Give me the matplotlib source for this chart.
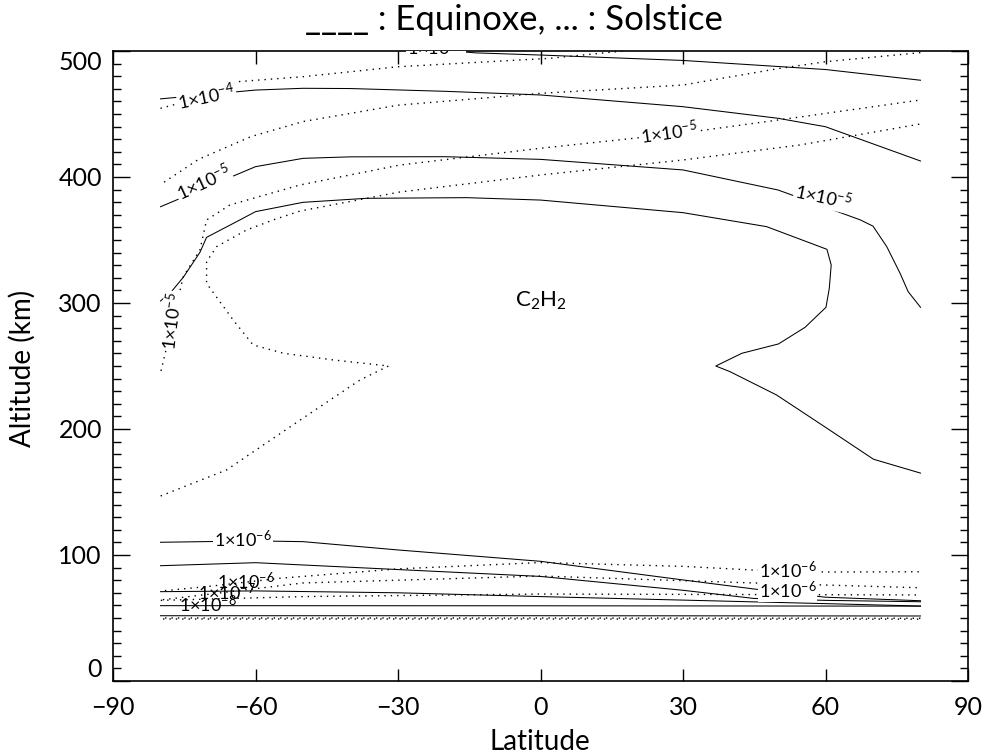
import matplotlib
matplotlib.use('Agg')
import matplotlib.pyplot as plt
from matplotlib.ticker import MultipleLocator

plt.rcParams['font.family'] = ['Lato', 'DejaVu Sans']
plt.rcParams['mathtext.fontset'] = 'custom'
plt.rcParams['mathtext.rm'] = 'Lato'
plt.rcParams['mathtext.it'] = 'Lato'
plt.rcParams['mathtext.sf'] = 'Lato'

# ---- Equinoxe contours (solid) : latitude (deg), altitude (km)
eq1_lat = [-80, -60, -40, -22, -13.6, 0, 30, 60, 80]
eq1_alt = [512, 508, 504.5, 501, 498.5, 496.8, 492.5, 485.3, 476.8]

eq2_lat = [-80, -60, -50, -40, -20, 0, 30, 50, 60, 80]
eq2_alt = [462, 469, 470.4, 470.2, 468, 465.1, 455.8, 446.6, 439.9, 412.7]

eq3_lat = [-80, -60, -50, -40, -20, 0, 30, 50, 60, 67.3, 70, 72.9, 75.7, 77.4, 80]
eq3_alt = [376.4, 408.2, 414.8, 416, 416.1, 414, 405.6, 389.7, 376, 366, 361, 344.7, 323.6, 309, 296.6]

eq4_lat = [-80, -77.6, -75.2, -71.7, -70.3, -63.3, -60, -50, -36.6, -15.5, 0, 30, 47.6,
           60.3, 61.2, 60.8, 60.1, 55.7, 50.1, 42.4, 36.9, 39.9, 49.7, 60.3, 70.1, 80]
eq4_alt = [301.6, 309.5, 320.4, 340.2, 352.1, 365.9, 372.5, 379.9, 383.1, 383.6, 381.7, 371.7, 360.6,
           342.6, 330.2, 311.7, 296.6, 280.7, 267.5, 260.1, 250, 245.5, 227, 200.6, 176, 165]

eq5_lat = [-80, -60, -50, -30, 0, 30, 45, 60, 80]
eq5_alt = [110.1, 111.2, 110.6, 104, 95, 80.2, 73, 66.5, 63.7]

eq6_lat = [-80, -60, 0, 30, 45, 60, 80]
eq6_alt = [91.5, 93.9, 83, 72, 65.5, 64, 62.9]

eq7_lat = [-80, -60, -30, 0, 30, 60, 80]
eq7_alt = [70.9, 71.5, 70, 67, 64.2, 61.4, 59.5]

eq8_lat = [-80, 0, 80]
eq8_alt = [59.8, 59.7, 59.4]

eq9_lat = [-80, 0, 80]
eq9_alt = [51.8, 51.8, 51.6]

# ---- Solstice contours (dotted)
so1_lat = [-80, -76, -64, -50, -30, 2, 19.5, 40, 60, 80]
so1_alt = [454.5, 458.5, 475.6, 479.6, 487.5, 494.2, 500.8, 506, 511, 516]

so2_lat = [-80, -72, -61, -50, -30, 0, 30, 50, 60, 80]
so2_alt = [394, 414, 432, 444, 457, 466.4, 473, 486, 491.5, 498.7]

so3_lat = [-80, -77.6, -75.2, -71.7, -70.3, -65.4, -50.6, -29.6, 0, 30, 54.6, 80]
so3_alt = [244.4, 282.5, 320.9, 342.1, 365.9, 377.8, 393.7, 409.5, 422.8, 434.9, 447.6, 461.1]

so4_lat = [-80, -66.1, -50.6, -38, -32, -43.6, -54.1, -60.5, -64.7, -70.3, -70.3, -68.2,
           -61.9, -56.3, -50.6, -29.6, 0, 30, 54.6, 80]
so4_alt = [146.8, 167.5, 207.1, 238.9, 250, 254.8, 260.1, 266.7, 286.5, 315.6, 332.8, 344.7,
           357.9, 365.9, 373, 388.1, 401.6, 413.5, 425.4, 442.1]

so5_lat = [-80, -70, -55, -30, 0, 30, 45, 60, 80]
so5_alt = [71.4, 75, 81.5, 89, 94, 91, 88, 86.5, 86.7]

so6_lat = [-80, -50, 0, 45, 80]
so6_alt = [64.3, 77.8, 83.3, 77.8, 74]

so7_lat = [-80, -50, 0, 80]
so7_alt = [64, 67, 69, 68.3]

so8_lat = [-80, 0, 80]
so8_alt = [50, 50, 49.8]

so9_lat = [-80, 0, 80]
so9_alt = [49.2, 49.2, 49.1]

solid_lines = [(eq1_lat, eq1_alt), (eq2_lat, eq2_alt), (eq3_lat, eq3_alt), (eq4_lat, eq4_alt),
               (eq5_lat, eq5_alt), (eq6_lat, eq6_alt), (eq7_lat, eq7_alt), (eq8_lat, eq8_alt),
               (eq9_lat, eq9_alt)]
dotted_lines = [(so1_lat, so1_alt), (so2_lat, so2_alt), (so3_lat, so3_alt), (so4_lat, so4_alt),
                (so5_lat, so5_alt), (so6_lat, so6_alt), (so7_lat, so7_alt), (so8_lat, so8_alt),
                (so9_lat, so9_alt)]

xticks = [-90, -60, -30, 0, 30, 60, 90]
yticks = [0, 100, 200, 300, 400, 500]

fig = plt.figure(figsize=(9.86, 7.55), dpi=100)
ax = fig.add_axes([113 / 986, 1 - 681 / 755, 855 / 986, 630 / 755])

for lat, alt in solid_lines:
    ax.plot(lat, alt, color='black', lw=0.75)
for i, (lat, alt) in enumerate(dotted_lines):
    ax.plot(lat, alt, color='black', lw=1.0, linestyle=(i * 1.5, (1, 3.6)))


def lab(s):
    return r'$1{\times}10^{' + s + '}$'


# contour labels: text, lat, alt, rotation, white background
labels = [
    (lab('-4'), -22, 502.5, 0, True),
    (lab('-4'), -70.3, 464, 12, True),
    (lab('-5'), -71, 396, 25, True),
    (lab('-5'), 59.5, 384, -12, True),
    (lab('-5'), 27, 435, 8, True),
    (lab('-5'), -77.6, 286, 83, True),
    (lab('-6'), -62.6, 112, 0, True),
    (lab('-6'), 52, 88, 0, True),
    (lab('-6'), 52, 72, 0, True),
    (lab('-6'), -62, 79, 0, False),
    (lab('-7'), -66, 70.5, 0, False),
    (lab('-8'), -70, 61, 0, False),
]
for s, x, y, rot, bg in labels:
    kw = {}
    if bg:
        kw['bbox'] = dict(facecolor='white', edgecolor='none', pad=0.5)
    ax.text(x, y, s, fontsize=13, ha='center', va='center', rotation=rot,
            rotation_mode='anchor', clip_on=True, zorder=3, **kw)

ax.text(0, 302, r'C$_2$H$_2$', fontsize=16, ha='center', va='center')

ax.set_xlim(-90, 90)
ax.set_ylim(0, 500)
ax.set_xticks(xticks)
ax.set_yticks(yticks)
ax.yaxis.set_minor_locator(MultipleLocator(10))
ax.tick_params(which='major', direction='in', top=True, right=True, width=1, labelsize=18)
ax.tick_params(axis='x', which='major', length=9, pad=11)
ax.tick_params(axis='y', which='major', length=12, pad=8)
ax.tick_params(axis='y', which='minor', direction='in', right=True, length=6, width=1)
for sp in ax.spines.values():
    sp.set_linewidth(1.2)

yt = ax.yaxis.get_major_ticks()
yt[0].label1.set_verticalalignment('bottom')
yt[-1].label1.set_verticalalignment('top')

fig.text(514 / 986, 1 - 20 / 755, '____ : Equinoxe, ... : Solstice', ha='center', va='center',
         fontsize=25)
fig.text(540 / 986, 1 - 742 / 755, 'Latitude', ha='center', va='center', fontsize=20)
fig.text(22 / 986, 1 - 368 / 755, 'Altitude (km)', ha='center', va='center', rotation=90,
         fontsize=20)

fig.savefig('out.png', dpi=100)
